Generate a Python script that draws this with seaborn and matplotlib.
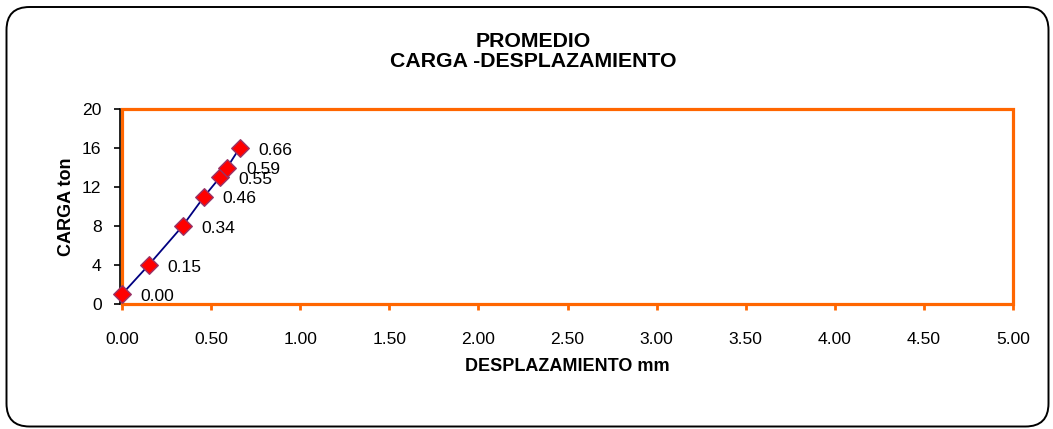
import matplotlib
matplotlib.use("Agg")
import matplotlib.pyplot as plt
from matplotlib.patches import FancyBboxPatch, Rectangle
import seaborn as sns
import pandas as pd

# Load-displacement readings (average of the test)
desplazamiento_mm = [0.00, 0.15, 0.34, 0.46, 0.55, 0.59, 0.66]
carga_ton = [1, 4, 8, 11, 13, 14, 16]
x_ticks = [0.0, 0.5, 1.0, 1.5, 2.0, 2.5, 3.0, 3.5, 4.0, 4.5, 5.0]
y_ticks = [0, 4, 8, 12, 16, 20]

titulo = "PROMEDIO\nCARGA -DESPLAZAMIENTO"
etiqueta_x = "DESPLAZAMIENTO mm"
etiqueta_y = "CARGA ton"

sns.set_theme(style="white")
plt.rcParams["font.family"] = ["Liberation Sans", "DejaVu Sans"]
plt.rcParams["text.color"] = "black"
plt.rcParams["axes.labelcolor"] = "black"
plt.rcParams["xtick.color"] = "black"
plt.rcParams["ytick.color"] = "black"

NARANJA = "#FF6600"
W, H = 1053, 429
fig = plt.figure(figsize=(W / 100, H / 100), dpi=100)
fig.patch.set_facecolor("white")

# background layer in pixel units holding the rounded chart frame
bg = fig.add_axes([0, 0, 1, 1], zorder=-5)
bg.set_xlim(0, W)
bg.set_ylim(H, 0)
bg.axis("off")
bg.add_patch(FancyBboxPatch(
    (6.5, 7), W - 6.5 - 4.5, H - 7 - 2.5,
    boxstyle="round,pad=0,rounding_size=23",
    facecolor="white", edgecolor="black", linewidth=1.4))

left, right, top, bottom = 122, 1013, 109, 304
ax = fig.add_axes([left / W, 1 - bottom / H, (right - left) / W, (bottom - top) / H])
ax.set_facecolor("none")

df = pd.DataFrame({"x": desplazamiento_mm, "y": carga_ton})
sns.lineplot(data=df, x="x", y="y", ax=ax, color="#000080", linewidth=1.3,
             sort=False, estimator=None, zorder=3)
sns.scatterplot(data=df, x="x", y="y", ax=ax, marker="D", s=80,
                color="#FF0000", edgecolor="#993366", linewidth=1.0, zorder=4,
                clip_on=False)

for xv, yv in zip(desplazamiento_mm, carga_ton):
    ax.annotate(f"{xv:.2f}", (xv, yv), xytext=(13.5, -1.5),
                textcoords="offset points", ha="left", va="center",
                fontsize=12.6, color="black", zorder=5)

ax.set_xlim(0, 5)
ax.set_ylim(0, 20)
ax.set_xticks(x_ticks)
ax.set_xticklabels([f"{v:.2f}" for v in x_ticks])
ax.set_yticks(y_ticks)
ax.set_yticklabels([str(v) for v in y_ticks])

# orange plot-area border
ax.add_patch(Rectangle((0, 0), 1, 1, transform=ax.transAxes, fill=False,
                       edgecolor=NARANJA, linewidth=2.3, zorder=2, clip_on=False))
for s in ["top", "right", "bottom"]:
    ax.spines[s].set_visible(False)
ax.spines["left"].set_visible(True)
ax.spines["left"].set_color("black")
ax.spines["left"].set_linewidth(1.2)
ax.spines["left"].set_position(("outward", 1.2))

ax.tick_params(axis="x", direction="out", length=4, width=2, color=NARANJA,
               labelsize=12.6, labelcolor="black", pad=16, bottom=True)
ax.tick_params(axis="y", direction="out", length=4.5, width=1.2, color="black",
               labelsize=12.6, labelcolor="black", pad=9, left=True)
ax.grid(False)

ax.set_xlabel(etiqueta_x, fontsize=13, fontweight="bold", labelpad=8)
ax.set_ylabel(etiqueta_y, fontsize=13, fontweight="bold", labelpad=5)

fig.text(533 / W, 1 - 51.5 / H, titulo, ha="center", va="center",
         fontsize=15.3, fontweight="bold", linespacing=1.05)

fig.savefig("out.png", dpi=100, facecolor="white")
